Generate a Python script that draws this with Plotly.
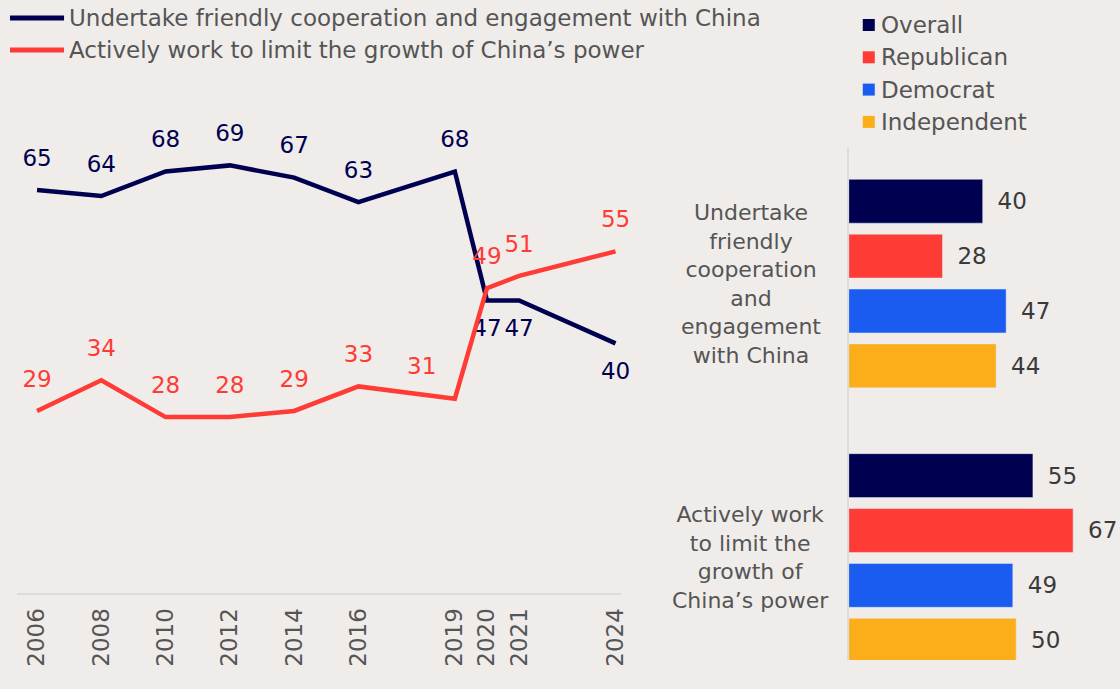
import plotly.graph_objects as go

# line chart data
years = [2006, 2008, 2010, 2012, 2014, 2016, 2019, 2020, 2021, 2024]
friendly = [65, 64, 68, 69, 67, 63, 68, 47, 47, 40]
limit = [29, 34, 28, 28, 29, 33, 31, 49, 51, 55]
line_names = ["Undertake friendly cooperation and engagement with China",
              "Actively work to limit the growth of China’s power"]

# bar chart data
statements = ["Undertake<br>friendly<br>cooperation<br>and<br>engagement<br>with China",
              "Actively work<br>to limit the<br>growth of<br>China’s power"]
groups = ["Overall", "Republican", "Democrat", "Independent"]
overall = [40, 55]
republican = [28, 67]
democrat = [47, 49]
independent = [44, 50]

NAVY = "#000050"
RED = "#ff3b36"
BLUE = "#1a5cf0"
ORANGE = "#fcad1a"
BG = "#efecea"
GREY = "#555555"
FONT = "DejaVu Sans"
W, H = 1120, 689   # reference pixel frame used for placing things

fig = go.Figure()

fig.add_trace(go.Scatter(
    x=years, y=friendly, name=line_names[0],
    mode="lines+markers+text", line=dict(color=NAVY, width=4.5),
    marker=dict(size=28, color="rgba(0,0,0,0)"),
    text=friendly, textfont=dict(size=23, color=NAVY, family=FONT),
    textposition=["top center"] * 7 + ["bottom center"] * 3,
    cliponaxis=False, xaxis="x", yaxis="y", showlegend=False))

fig.add_trace(go.Scatter(
    x=years, y=limit, name=line_names[1],
    mode="lines+markers+text", line=dict(color=RED, width=4.5),
    marker=dict(size=28, color="rgba(0,0,0,0)"),
    text=limit, textfont=dict(size=23, color=RED, family=FONT),
    textposition=["top center"] * 6 + ["top left"] + ["top center"] * 3,
    cliponaxis=False, xaxis="x", yaxis="y", showlegend=False))

bar_colors = [NAVY, RED, BLUE, ORANGE]
for name, vals, col in zip(groups, [overall, republican, democrat, independent], bar_colors):
    fig.add_trace(go.Bar(
        y=statements, x=vals, name=name, orientation="h", marker_color=col,
        texttemplate="\u00a0\u2009%{x}", textposition="outside", constraintext="none",
        textfont=dict(size=23, color="#3a3a3a", family=FONT), cliponaxis=False,
        xaxis="x2", yaxis="y2", showlegend=False))

# category labels, centred
for s in statements:
    fig.add_annotation(x=750 / W, xref="paper", xanchor="center", y=s, yref="y2",
                       text=s, showarrow=False, align="center",
                       font=dict(size=22, color=GREY, family=FONT))

# legend for the lines
for i, (nm, col) in enumerate(zip(line_names, [NAVY, RED])):
    yy = 1 - (18 + 32 * i) / H
    fig.add_shape(type="line", xref="paper", yref="paper", x0=10 / W, x1=64 / W,
                  y0=yy, y1=yy, line=dict(color=col, width=5))
    fig.add_annotation(x=67 / W, y=yy, xref="paper", yref="paper", xanchor="left",
                       yanchor="middle", text=nm, showarrow=False,
                       font=dict(size=23, color=GREY, family=FONT))

# legend for the bars
for i, (nm, col) in enumerate(zip(groups, bar_colors)):
    yy = 1 - (25 + 32.3 * i) / H
    fig.add_shape(type="rect", xref="paper", yref="paper", x0=862 / W, x1=874 / W,
                  y0=yy - 6 / H, y1=yy + 6 / H, line=dict(width=0), fillcolor=col)
    fig.add_annotation(x=878 / W, y=yy, xref="paper", yref="paper", xanchor="left",
                       yanchor="middle", text=nm, showarrow=False,
                       font=dict(size=23, color=GREY, family=FONT))

fig.update_layout(
    width=1128, height=H, margin=dict(l=0, r=0, t=0, b=0),
    paper_bgcolor=BG, plot_bgcolor=BG,
    font=dict(family=FONT, color=GREY),
    barmode="group", bargap=0.2, bargroupgap=0.2,
    xaxis=dict(domain=[17 / W, 620 / W], range=[2005.377, 2024.156],
               tickvals=years, tickangle=-90, ticks="", showgrid=False,
               zeroline=False, showline=True, linecolor="#dcdcdc", linewidth=2,
               tickfont=dict(size=23, color=GREY), ticklabelstandoff=4),
    yaxis=dict(domain=[96 / H, 589 / H], range=[-0.65, 79.65], visible=False),
    xaxis2=dict(domain=[848 / W, 1.0], range=[0, 81.3], visible=False),
    yaxis2=dict(domain=[29 / H, 541 / H], range=[1.372, -0.494],
                showticklabels=False, ticks="", showgrid=False, zeroline=False,
                showline=True, linecolor="#dcdcdc", linewidth=2, anchor="x2"),
)

fig.write_html("out.html", config={"displayModeBar": False},
               post_script="document.body.style.margin='0';"
                           "document.documentElement.style.overflow='hidden';")
